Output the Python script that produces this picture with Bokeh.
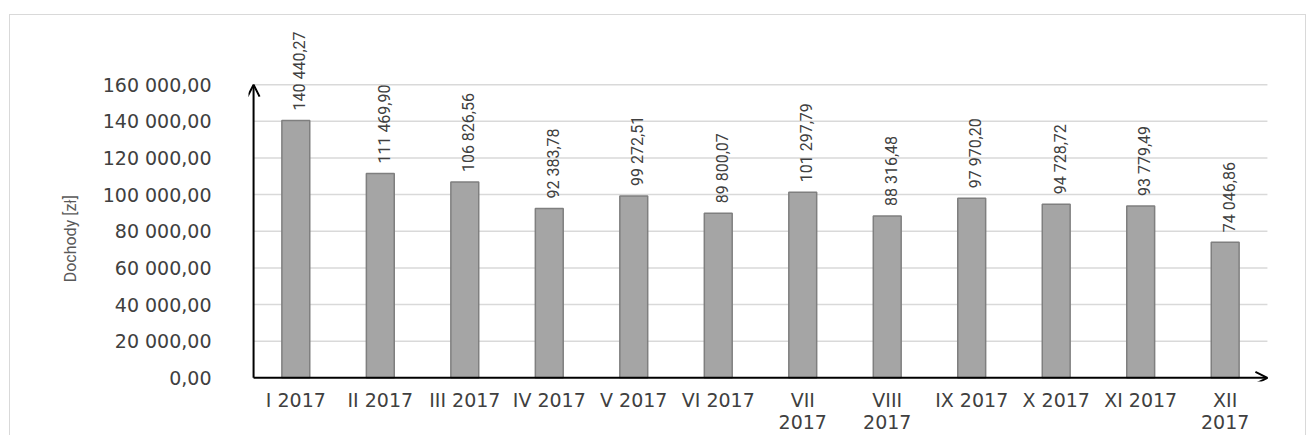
import math
from bokeh.plotting import figure
from bokeh.models import Range1d, FixedTicker, Arrow, OpenHead, ColumnDataSource
from bokeh.core.properties import value
from bokeh.embed import file_html
from bokeh.resources import INLINE

categories = ["I 2017", "II 2017", "III 2017", "IV 2017", "V 2017", "VI 2017",
              "VII\n2017", "VIII\n2017", "IX 2017", "X 2017", "XI 2017", "XII\n2017"]
values = [140440.27, 111469.90, 106826.56, 92383.78, 99272.51, 89800.07,
          101297.79, 88316.48, 97970.20, 94728.72, 93779.49, 74046.86]
y_ticks = [0, 20000, 40000, 60000, 80000, 100000, 120000, 140000, 160000]
y_tick_labels = ["0,00", "20 000,00", "40 000,00", "60 000,00", "80 000,00",
                 "100 000,00", "120 000,00", "140 000,00", "160 000,00"]
y_title = "Dochody [zł]"


def fmt(v):
    return f"{v:,.2f}".replace(",", " ").replace(".", ",")


n = len(values)
x = [i + 0.5 for i in range(n)]
src = ColumnDataSource(dict(x=x, top=values, label=[fmt(v) for v in values]))
grid_src = ColumnDataSource(dict(x0=[0] * (len(y_ticks) - 1), x1=[n] * (len(y_ticks) - 1),
                                 y=y_ticks[1:]))

p = figure(frame_width=1024, frame_height=361, output_backend="svg", toolbar_location=None,
           x_range=Range1d(-0.06, n + 0.06), y_range=Range1d(-2000, 195000),
           min_border_left=238, min_border_right=33, min_border_top=5, min_border_bottom=20)
p.styles = {"margin-top": "14px", "margin-left": "9px",
            "border-top": "1px solid #d9d9d9",
            "border-left": "1px solid #d9d9d9", "border-right": "1px solid #d9d9d9"}
p.outline_line_color = None
p.background_fill_color = "white"
p.border_fill_color = "white"

p.xgrid.visible = False
p.ygrid.visible = False
p.segment(x0="x0", x1="x1", y0="y", y1="y", source=grid_src,
          line_color="#d9d9d9", line_width=1.5)

ya = p.yaxis[0]
ya.ticker = FixedTicker(ticks=y_ticks)
ya.major_label_overrides = {t: l for t, l in zip(y_ticks, y_tick_labels)}
ya.axis_line_color = None
ya.major_tick_line_color = None
ya.minor_tick_line_color = None
ya.major_tick_out = 0
ya.major_tick_in = 0
ya.major_label_standoff = 37
ya.major_label_text_font = "DejaVu Sans"
ya.major_label_text_font_size = "19px"
ya.major_label_text_color = "#404040"
# trailing no-break spaces keep the title centred on the 0-160 000 span
ya.axis_label = y_title + "\u00a0" * 19
ya.axis_label_text_font = "Roboto"
ya.axis_label_text_font_size = "16px"
ya.axis_label_text_font_style = "normal"
ya.axis_label_text_color = "#595959"
ya.axis_label_standoff = 20

xa = p.xaxis[0]
xa.ticker = FixedTicker(ticks=x)
xa.major_label_overrides = {t: c for t, c in zip(x, categories)}
xa.axis_line_color = None
xa.major_tick_line_color = None
xa.minor_tick_line_color = None
xa.major_tick_out = 0
xa.major_tick_in = 0
xa.major_label_standoff = 7
xa.major_label_text_font = "DejaVu Sans"
xa.major_label_text_font_size = "19px"
xa.major_label_text_line_height = 1.0
xa.major_label_text_color = "#404040"

p.vbar(x="x", top="top", bottom=0, width=0.33, source=src,
       fill_color="#a5a5a5", line_color="#7f7f7f", line_width=1.5)

p.text(x="x", y="top", text="label", source=src, angle=math.pi / 2,
       text_align="left", text_baseline="middle", x_offset=4, y_offset=-10,
       text_font=value("Roboto"), text_font_size="16px",
       text_color="#404040")

p.add_layout(Arrow(x_start=0, y_start=0, x_end=0, y_end=160000,
                   line_width=2, line_color="black",
                   end=OpenHead(size=12, line_width=2, line_color="black")))
p.add_layout(Arrow(x_start=0, y_start=0, x_end=n, y_end=0,
                   line_width=2, line_color="black",
                   end=OpenHead(size=12, line_width=2, line_color="black")))

open("out.html", "w").write(file_html(p, INLINE))
